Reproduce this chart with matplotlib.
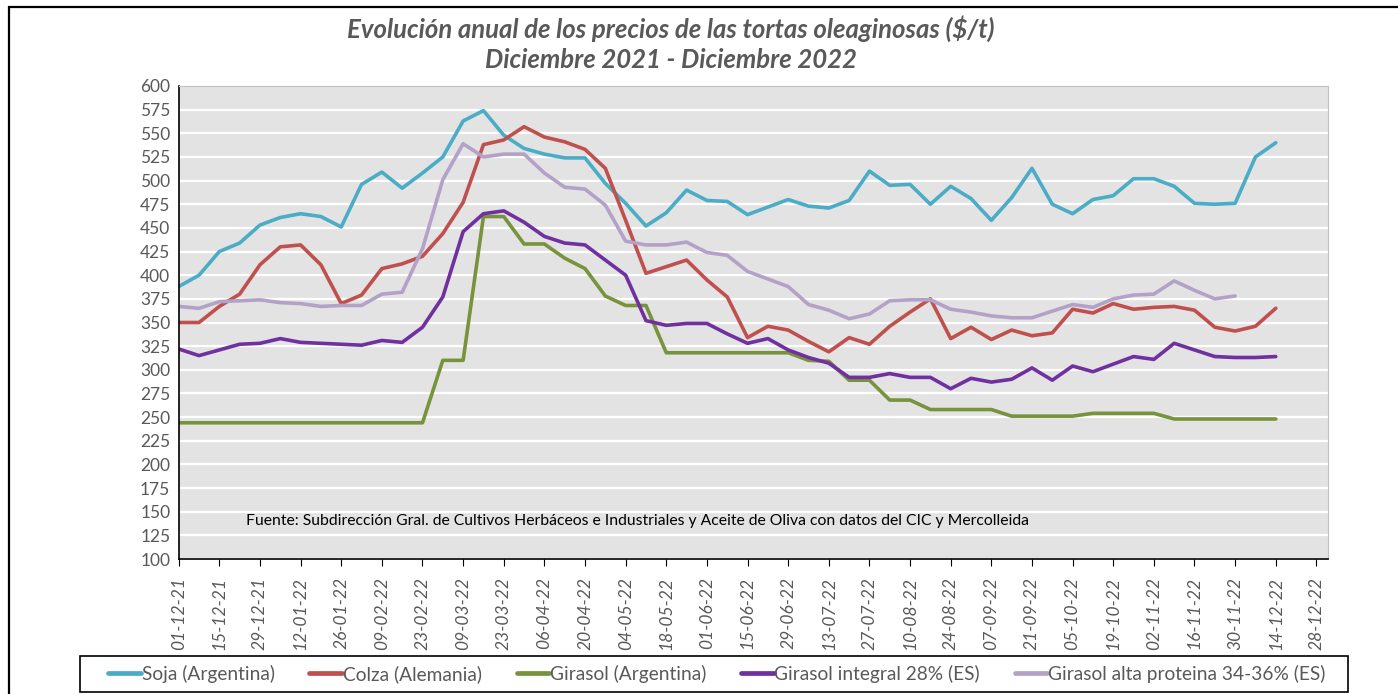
import pandas as pd
import numpy as np
import matplotlib.pyplot as plt
import matplotlib.dates as mdates
from matplotlib.patches import Rectangle

plt.rcParams['font.family'] = ['Lato', 'DejaVu Sans']

# weekly prices, 01-12-21 .. 14-12-22
start_date = '2021-12-01'

soja = [388, 400, 425, 434, 453, 461, 465, 462, 451, 496, 509, 492, 508, 525, 563, 574, 548, 534,
        528, 524, 524, 497, 476, 452, 466, 490, 479, 478, 464, 472, 480, 473, 471, 479, 510, 495,
        496, 475, 494, 481, 458, 482, 513, 475, 465, 480, 484, 502, 502, 494, 476, 475, 476, 525, 540]

colza = [350, 350, 367, 380, 411, 430, 432, 411, 370, 379, 407, 412, 420, 444, 477, 538, 543, 557,
         546, 541, 533, 513, 458, 402, 409, 416, 395, 377, 334, 346, 342, 330, 319, 334, 327, 346,
         361, 375, 333, 345, 332, 342, 336, 339, 364, 360, 370, 364, 366, 367, 363, 345, 341, 346, 365]

girasol_arg = [244, 244, 244, 244, 244, 244, 244, 244, 244, 244, 244, 244, 244, 310, 310, 462, 462, 433,
               433, 418, 407, 378, 368, 368, 318, 318, 318, 318, 318, 318, 318, 310, 309, 289, 289, 268,
               268, 258, 258, 258, 258, 251, 251, 251, 251, 254, 254, 254, 254, 248, 248, 248, 248, 248, 248]

girasol_int = [322, 315, 321, 327, 328, 333, 329, 328, 327, 326, 331, 329, 345, 377, 446, 465, 468, 456,
               441, 434, 432, 416, 400, 352, 347, 349, 349, 338, 328, 333, 321, 313, 307, 292, 292, 296,
               292, 292, 280, 291, 287, 290, 302, 289, 304, 298, 306, 314, 311, 328, 321, 314, 313, 313, 314]

girasol_ap = [367, 365, 372, 373, 374, 371, 370, 367, 368, 368, 380, 382, 428, 501, 539, 525, 528, 528,
              508, 493, 491, 474, 436, 432, 432, 435, 424, 421, 404, 396, 388, 369, 363, 354, 359, 373,
              374, 374, 364, 361, 357, 355, 355, 362, 369, 366, 375, 379, 380, 394, 384, 375, 378, np.nan, np.nan]

labels = ['Soja (Argentina)', 'Colza (Alemania)', 'Girasol (Argentina)',
          'Girasol integral 28% (ES)', 'Girasol alta proteina 34-36% (ES)']
colors = ['#4bacc6', '#c0504d', '#77933c', '#7030a0', '#b3a2c7']

dates = pd.date_range(start_date, periods=len(soja), freq='7D')
series = [soja, colza, girasol_arg, girasol_int, girasol_ap]

fig = plt.figure(figsize=(13.98, 6.94), dpi=100)
ax = fig.add_axes([178.7 / 1398, 1 - 559 / 694, (1328 - 178.7) / 1398, (559 - 86) / 694])
ax.set_facecolor('#e3e3e3')

for s, lab, c in zip(series, labels, colors):
    ax.plot(dates, s, color=c, lw=2.6, label=lab, solid_capstyle='round', solid_joinstyle='round')

ax.set_ylim(100, 600)
ax.set_yticks(np.arange(100, 601, 25))
ax.yaxis.grid(True, color='white', lw=1.6)
ax.set_axisbelow(True)

ax.set_xlim(pd.Timestamp('2021-12-01'), pd.Timestamp('2023-01-01'))
ax.set_xticks(pd.date_range('2021-12-01', '2022-12-28', freq='14D'))
ax.xaxis.set_major_formatter(mdates.DateFormatter('%d-%m-%y'))

for lbl in ax.get_xticklabels():
    lbl.set_rotation(90)
    lbl.set_fontstyle('italic')

ax.tick_params(axis='x', colors='black', labelcolor='#595959', labelsize=12.5, length=5, direction='out', pad=8)
ax.tick_params(axis='y', labelcolor='#595959', labelsize=12.5, length=0, pad=6)

ax.spines['left'].set_color('black')
ax.spines['bottom'].set_color('black')
ax.spines['left'].set_linewidth(1.2)
ax.spines['bottom'].set_linewidth(1.2)
ax.spines['top'].set_color('#bfbfbf')
ax.spines['right'].set_color('#bfbfbf')

fig.text(671 / 1398, 1 - 29 / 694, 'Evolución anual de los precios de las tortas oleaginosas ($/t)',
         ha='center', va='center', fontsize=18.5, fontweight='bold', fontstyle='italic', color='#595959')
fig.text(671 / 1398, 1 - 60 / 694, 'Diciembre 2021 - Diciembre 2022',
         ha='center', va='center', fontsize=18.5, fontweight='bold', fontstyle='italic', color='#595959')

fig.text(246 / 1398, 1 - 521 / 694,
         'Fuente: Subdirección Gral. de Cultivos Herbáceos e Industriales y Aceite de Oliva con datos del CIC y Mercolleida',
         ha='left', va='center', fontsize=11.3, color='black')

# outer frame (cropped at right and bottom)
fig.add_artist(Rectangle((9 / 1398, -0.1), 1.2, 1 - 7 / 694 + 0.1, transform=fig.transFigure,
                         fill=False, edgecolor='black', lw=1.6))

# legend box
fig.add_artist(Rectangle((80 / 1398, 1 - 692 / 694), (1348 - 80) / 1398, (692 - 656) / 694,
                         transform=fig.transFigure, fill=False, edgecolor='black', lw=1.2))
leg = fig.legend(loc='center', bbox_to_anchor=(717 / 1398, 1 - 674 / 694), ncol=5, frameon=False,
                 fontsize=13.8, handlelength=1.7, handletextpad=0.05, columnspacing=1.8)
for t in leg.get_texts():
    t.set_color('#595959')
for h in leg.get_lines():
    h.set_linewidth(3.4)

fig.savefig('out.png', dpi=100)
